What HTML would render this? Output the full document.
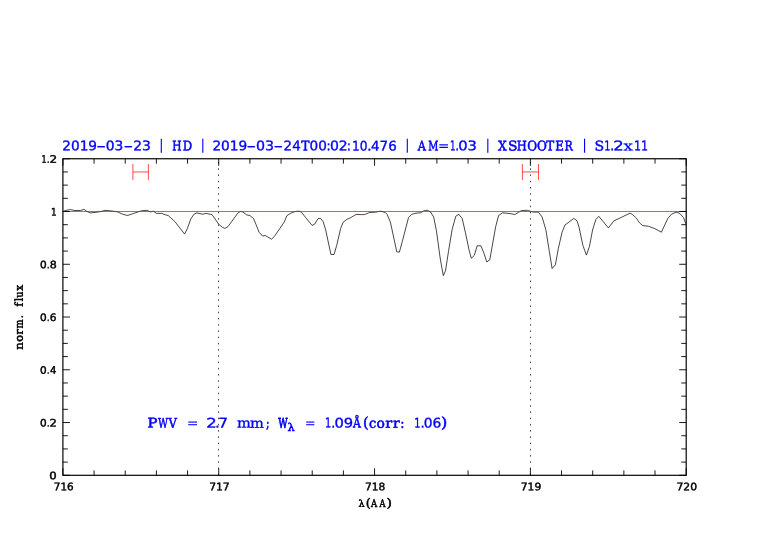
<!DOCTYPE html>
<html lang="en"><head><meta charset="utf-8"><title>plot</title>
<style>
html,body{margin:0;padding:0;background:#fff}svg{display:block}text{white-space:pre;font-variant-ligatures:none;text-rendering:geometricPrecision}
.c0{font-family:"DejaVu Sans","Liberation Sans",sans-serif;font-size:10.3px;font-weight:normal;fill:#000;stroke:#000;stroke-width:0.45px}
.c1{font-family:"DejaVu Serif","Liberation Serif",serif;font-size:9.44px;font-weight:normal;fill:#000;stroke:#000;stroke-width:0.5px}
.c2{font-family:"DejaVu Serif","Liberation Serif",serif;font-size:11.89px;font-weight:normal;fill:#000;stroke:#000;stroke-width:0.5px}
.c3{font-family:"DejaVu Serif","Liberation Serif",serif;font-size:10.5px;font-weight:normal;fill:#000;stroke:#000;stroke-width:0.5px}
.c4{font-family:"DejaVu Serif","Liberation Serif",serif;font-size:10.9px;font-weight:normal;fill:#000;stroke:#000;stroke-width:0.55px}
.c5{font-family:"DejaVu Sans","Liberation Sans",sans-serif;font-size:13.25px;font-weight:normal;fill:#00f;stroke:#00f;stroke-width:0.35px}
.c6{font-family:"DejaVu Sans","Liberation Sans",sans-serif;font-size:13.25px;font-weight:normal;fill:#00f;stroke:#00f;stroke-width:0.2px}
.c7{font-family:"DejaVu Sans","Liberation Sans",sans-serif;font-size:14.2px;font-weight:normal;fill:#00f;stroke:#00f;stroke-width:0.0px}
.c8{font-family:"DejaVu Serif","Liberation Serif",serif;font-size:13.5px;font-weight:normal;fill:#00f;stroke:#00f;stroke-width:0.55px}
.c9{font-family:"DejaVu Serif","Liberation Serif",serif;font-size:13.5px;font-weight:normal;fill:#00f;stroke:#00f;stroke-width:0.4px}
.c10{font-family:"DejaVu Serif","Liberation Serif",serif;font-size:13.5px;font-weight:normal;fill:#00f;stroke:#00f;stroke-width:0.25px}
.c11{font-family:"DejaVu Serif","Liberation Serif",serif;font-size:13.5px;font-weight:normal;fill:#00f;stroke:#00f;stroke-width:0.3px}
.c12{font-family:"DejaVu Serif","Liberation Serif",serif;font-size:13.5px;font-weight:normal;fill:#00f;stroke:#00f;stroke-width:0.8px}
.c13{font-family:"DejaVu Serif","Liberation Serif",serif;font-size:10.82px;font-weight:normal;fill:#00f;stroke:#00f;stroke-width:0.55px}
.c14{font-family:"DejaVu Serif","Liberation Serif",serif;font-size:14.61px;font-weight:normal;fill:#00f;stroke:#00f;stroke-width:0.55px}
</style></head>
<body>
<svg width="782" height="542" viewBox="0 0 782 542">
<rect width="782" height="542" fill="#fff"/>
<path d="M218.50 475.3V158.75" stroke="#222" stroke-width="0.85" stroke-dasharray="1.5 4.735" fill="none"/>
<path d="M530.50 475.3V158.75" stroke="#222" stroke-width="0.85" stroke-dasharray="1.5 4.735" fill="none"/>
<path d="M62.90 211.50 L66.00 210.40 L70.20 209.60 L75.00 210.50 L80.50 210.50 L84.00 209.30 L87.00 211.50 L90.70 212.90 L96.00 212.30 L101.00 211.50 L105.00 210.30 L112.00 211.00 L117.30 211.80 L122.40 214.10 L127.50 215.50 L133.70 213.40 L138.10 211.90 L142.20 210.65 L147.30 210.35 L150.30 211.90 L153.40 211.20 L156.50 213.40 L161.60 213.40 L165.70 214.95 L168.20 215.50 L174.90 221.60 L184.60 234.10 L187.20 228.80 L190.80 219.00 L193.80 214.40 L196.90 212.90 L202.50 214.20 L206.10 213.40 L210.50 214.30 L212.00 214.60 L215.10 219.00 L218.70 224.20 L222.30 227.20 L224.80 228.45 L227.90 226.70 L232.00 221.10 L237.60 213.40 L240.20 211.40 L242.70 211.90 L246.80 214.95 L249.90 215.50 L253.50 218.50 L256.50 225.70 L259.10 232.30 L262.70 236.10 L265.20 235.40 L271.40 239.20 L274.40 236.40 L279.60 228.80 L284.20 222.10 L286.90 215.70 L290.20 213.50 L294.70 211.70 L296.60 211.25 L299.60 211.30 L301.60 212.40 L305.70 217.60 L312.10 225.40 L314.70 224.10 L318.00 218.65 L320.50 218.30 L323.10 221.50 L325.70 229.90 L330.90 254.45 L334.10 254.45 L336.70 245.40 L340.60 228.60 L343.20 222.10 L347.00 219.30 L350.90 217.60 L356.10 214.40 L361.25 214.60 L364.50 214.60 L369.70 212.45 L375.50 212.20 L380.70 211.15 L385.20 212.45 L387.10 214.40 L390.40 222.10 L396.80 251.90 L399.40 252.10 L402.65 240.20 L408.50 217.60 L411.70 214.40 L414.90 213.35 L420.70 212.70 L424.60 210.50 L427.20 210.25 L430.40 211.80 L433.70 217.00 L436.40 230.50 L440.30 259.00 L443.30 275.60 L445.50 270.80 L448.45 251.70 L452.10 229.50 L455.80 216.20 L458.80 214.30 L462.20 218.45 L465.40 232.50 L469.10 250.20 L471.30 258.30 L474.30 255.35 L477.20 245.75 L480.90 245.75 L483.90 253.10 L486.80 262.00 L489.80 259.80 L492.00 247.20 L495.70 226.60 L498.60 215.50 L502.50 212.80 L510.30 213.60 L514.80 214.50 L521.40 210.60 L527.30 210.30 L533.20 212.10 L538.40 212.10 L542.10 217.00 L545.80 229.50 L549.40 251.70 L552.10 268.60 L555.35 264.90 L558.30 248.70 L562.00 232.50 L564.90 225.10 L573.80 218.45 L577.05 220.70 L579.05 227.30 L582.90 245.40 L586.40 255.10 L589.40 246.70 L592.60 229.90 L595.85 219.55 L598.80 216.30 L603.60 222.10 L608.40 227.95 L613.90 220.85 L621.70 217.20 L630.10 213.10 L632.80 214.80 L636.20 217.90 L639.50 222.80 L642.70 225.60 L648.40 226.20 L654.90 228.70 L661.40 232.20 L664.10 226.40 L667.80 218.50 L671.50 214.20 L676.10 212.20 L679.80 213.40 L683.50 217.60 L685.80 223.60" stroke="#000" stroke-width="0.72" fill="none" stroke-linejoin="round"/>
<path d="M62.90 211.51H686.20" stroke="#f00" stroke-width="0.7" fill="none"/>
<path d="M62.90 475.30v-7.0M62.90 158.75v7.0M94.06 475.30v-4.9M94.06 158.75v4.9M125.23 475.30v-4.9M125.23 158.75v4.9M156.40 475.30v-4.9M156.40 158.75v4.9M187.56 475.30v-4.9M187.56 158.75v4.9M218.73 475.30v-7.0M218.73 158.75v7.0M249.89 475.30v-4.9M249.89 158.75v4.9M281.06 475.30v-4.9M281.06 158.75v4.9M312.22 475.30v-4.9M312.22 158.75v4.9M343.38 475.30v-4.9M343.38 158.75v4.9M374.55 475.30v-7.0M374.55 158.75v7.0M405.72 475.30v-4.9M405.72 158.75v4.9M436.88 475.30v-4.9M436.88 158.75v4.9M468.05 475.30v-4.9M468.05 158.75v4.9M499.21 475.30v-4.9M499.21 158.75v4.9M530.38 475.30v-7.0M530.38 158.75v7.0M561.54 475.30v-4.9M561.54 158.75v4.9M592.71 475.30v-4.9M592.71 158.75v4.9M623.87 475.30v-4.9M623.87 158.75v4.9M655.03 475.30v-4.9M655.03 158.75v4.9M686.20 475.30v-7.0M686.20 158.75v7.0M62.90 475.30h7.0M686.20 475.30h-7.0M62.90 462.11h4.9M686.20 462.11h-4.9M62.90 448.92h4.9M686.20 448.92h-4.9M62.90 435.73h4.9M686.20 435.73h-4.9M62.90 422.54h7.0M686.20 422.54h-7.0M62.90 409.35h4.9M686.20 409.35h-4.9M62.90 396.16h4.9M686.20 396.16h-4.9M62.90 382.97h4.9M686.20 382.97h-4.9M62.90 369.78h7.0M686.20 369.78h-7.0M62.90 356.59h4.9M686.20 356.59h-4.9M62.90 343.40h4.9M686.20 343.40h-4.9M62.90 330.21h4.9M686.20 330.21h-4.9M62.90 317.02h7.0M686.20 317.02h-7.0M62.90 303.84h4.9M686.20 303.84h-4.9M62.90 290.65h4.9M686.20 290.65h-4.9M62.90 277.46h4.9M686.20 277.46h-4.9M62.90 264.27h7.0M686.20 264.27h-7.0M62.90 251.08h4.9M686.20 251.08h-4.9M62.90 237.89h4.9M686.20 237.89h-4.9M62.90 224.70h4.9M686.20 224.70h-4.9M62.90 211.51h7.0M686.20 211.51h-7.0M62.90 198.32h4.9M686.20 198.32h-4.9M62.90 185.13h4.9M686.20 185.13h-4.9M62.90 171.94h4.9M686.20 171.94h-4.9M62.90 158.75h7.0M686.20 158.75h-7.0" stroke="#000" stroke-width="0.9" fill="none"/>
<rect x="62.9" y="158.75" width="623.30" height="316.55" stroke="#000" stroke-width="1.18" fill="none"/>
<path d="M132.9 164V179.9M148.4 164V179.9M132.9 171.95H148.4" stroke="#f00" stroke-width="0.7" fill="none"/>
<path d="M522.4 164V179.9M538.5 164V179.9M522.4 171.95H538.5" stroke="#f00" stroke-width="0.7" fill="none"/>
<text transform="rotate(0.1 49.2 158.8)"><tspan class="c0" x="41.52" y="162.75" textLength="5.11" lengthAdjust="spacingAndGlyphs">1</tspan><tspan class="c0" x="47.14" y="162.75" textLength="2.44" lengthAdjust="spacingAndGlyphs">.</tspan><tspan class="c0" x="49.42" y="162.75" textLength="7.63" lengthAdjust="spacingAndGlyphs">2</tspan></text>
<text transform="rotate(0.1 53.9 211.5)"><tspan class="c0" x="51.05" y="215.51" textLength="5.60" lengthAdjust="spacingAndGlyphs">1</tspan></text>
<text transform="rotate(0.1 48.4 264.3)"><tspan class="c0" x="40.09" y="268.27" textLength="6.68" lengthAdjust="spacingAndGlyphs">0</tspan><tspan class="c0" x="47.14" y="268.27" textLength="2.44" lengthAdjust="spacingAndGlyphs">.</tspan><tspan class="c0" x="49.66" y="268.27" textLength="7.04" lengthAdjust="spacingAndGlyphs">8</tspan></text>
<text transform="rotate(0.1 48.4 317.0)"><tspan class="c0" x="40.09" y="321.02" textLength="6.68" lengthAdjust="spacingAndGlyphs">0</tspan><tspan class="c0" x="47.14" y="321.02" textLength="2.44" lengthAdjust="spacingAndGlyphs">.</tspan><tspan class="c0" x="49.69" y="321.02" textLength="6.73" lengthAdjust="spacingAndGlyphs">6</tspan></text>
<text transform="rotate(0.1 48.4 369.8)"><tspan class="c0" x="40.09" y="373.78" textLength="6.68" lengthAdjust="spacingAndGlyphs">0</tspan><tspan class="c0" x="47.14" y="373.78" textLength="2.44" lengthAdjust="spacingAndGlyphs">.</tspan><tspan class="c0" x="49.95" y="373.78" textLength="6.45" lengthAdjust="spacingAndGlyphs">4</tspan></text>
<text transform="rotate(0.1 48.4 422.5)"><tspan class="c0" x="40.09" y="426.54" textLength="6.68" lengthAdjust="spacingAndGlyphs">0</tspan><tspan class="c0" x="47.14" y="426.54" textLength="2.44" lengthAdjust="spacingAndGlyphs">.</tspan><tspan class="c0" x="49.64" y="426.54" textLength="7.37" lengthAdjust="spacingAndGlyphs">2</tspan></text>
<text transform="rotate(0.1 53.0 475.3)"><tspan class="c0" x="49.34" y="479.30" textLength="7.40" lengthAdjust="spacingAndGlyphs">0</tspan></text>
<text transform="rotate(0.1 63.8 486.2)"><tspan class="c0" x="53.80" y="490.20" textLength="19.81" lengthAdjust="spacingAndGlyphs">716</tspan></text>
<text transform="rotate(0.1 219.3 486.2)"><tspan class="c0" x="209.18" y="490.20" textLength="20.51" lengthAdjust="spacingAndGlyphs">717</tspan></text>
<text transform="rotate(0.1 375.1 486.2)"><tspan class="c0" x="364.99" y="490.20" textLength="20.23" lengthAdjust="spacingAndGlyphs">718</tspan></text>
<text transform="rotate(0.1 531.0 486.2)"><tspan class="c0" x="520.78" y="490.20" textLength="20.44" lengthAdjust="spacingAndGlyphs">719</tspan></text>
<text transform="rotate(0.1 686.8 486.2)"><tspan class="c0" x="676.48" y="490.20" textLength="20.55" lengthAdjust="spacingAndGlyphs">720</tspan></text>
<text transform="rotate(0.1 374.9 502.9)"><tspan class="c1" x="358.60" y="506.75" textLength="6.08" lengthAdjust="spacingAndGlyphs">λ</tspan><tspan class="c2" x="365.79" y="506.97" textLength="5.00" lengthAdjust="spacingAndGlyphs">(</tspan><tspan class="c3" x="371.10" y="506.90" textLength="6.17" lengthAdjust="spacingAndGlyphs">A</tspan><tspan class="c3" x="379.40" y="506.90" textLength="5.98" lengthAdjust="spacingAndGlyphs">A</tspan><tspan class="c2" x="386.41" y="506.97" textLength="5.44" lengthAdjust="spacingAndGlyphs">)</tspan></text>
<g transform="translate(22.7 349.8) rotate(-90)"><text transform="rotate(0.1 17.1 -4.0)"><tspan class="c4" x="0.10" y="0.00" textLength="7.52" lengthAdjust="spacingAndGlyphs">n</tspan><tspan class="c4" x="8.04" y="0.00" textLength="6.78" lengthAdjust="spacingAndGlyphs">o</tspan><tspan class="c4" x="15.20" y="0.00" textLength="5.12" lengthAdjust="spacingAndGlyphs">r</tspan><tspan class="c4" x="21.30" y="0.00" textLength="8.97" lengthAdjust="spacingAndGlyphs">m</tspan><tspan class="c4" x="31.53" y="0.00" textLength="3.12" lengthAdjust="spacingAndGlyphs">.</tspan></text>
<text transform="rotate(0.1 54.1 -4.0)"><tspan class="c4" x="43.20" y="0.00" textLength="3.79" lengthAdjust="spacingAndGlyphs">f</tspan><tspan class="c4" x="48.60" y="0.00" textLength="3.38" lengthAdjust="spacingAndGlyphs">l</tspan><tspan class="c4" x="52.00" y="0.00" textLength="6.21" lengthAdjust="spacingAndGlyphs">u</tspan><tspan class="c4" x="59.13" y="0.00" textLength="5.78" lengthAdjust="spacingAndGlyphs">x</tspan></text></g>
<text transform="rotate(0.1 106.5 146.3)"><tspan class="c5" x="62.33" y="150.30" textLength="34.73" lengthAdjust="spacingAndGlyphs">2019</tspan><tspan class="c6" x="96.27" y="150.30" textLength="9.82" lengthAdjust="spacingAndGlyphs">-</tspan><tspan class="c5" x="105.72" y="150.30" textLength="17.59" lengthAdjust="spacingAndGlyphs">03</tspan><tspan class="c6" x="123.43" y="150.30" textLength="9.75" lengthAdjust="spacingAndGlyphs">-</tspan><tspan class="c5" x="133.21" y="150.30" textLength="17.70" lengthAdjust="spacingAndGlyphs">23</tspan></text>
<text transform="rotate(0.1 161.3 145.6)"><tspan class="c7" x="159.02" y="149.63" textLength="4.59" lengthAdjust="spacingAndGlyphs">|</tspan></text>
<text transform="rotate(0.1 182.1 146.6)"><tspan class="c8" x="172.26" y="150.55" textLength="9.26" lengthAdjust="spacingAndGlyphs">H</tspan><tspan class="c8" x="182.66" y="150.55" textLength="9.44" lengthAdjust="spacingAndGlyphs">D</tspan></text>
<text transform="rotate(0.1 202.7 145.6)"><tspan class="c7" x="200.42" y="149.63" textLength="4.59" lengthAdjust="spacingAndGlyphs">|</tspan></text>
<text transform="rotate(0.1 304.7 146.3)"><tspan class="c5" x="212.43" y="150.30" textLength="34.73" lengthAdjust="spacingAndGlyphs">2019</tspan><tspan class="c6" x="246.49" y="150.30" textLength="9.69" lengthAdjust="spacingAndGlyphs">-</tspan><tspan class="c5" x="255.90" y="150.30" textLength="18.04" lengthAdjust="spacingAndGlyphs">03</tspan><tspan class="c6" x="273.59" y="150.30" textLength="9.69" lengthAdjust="spacingAndGlyphs">-</tspan><tspan class="c5" x="283.64" y="150.30" textLength="17.09" lengthAdjust="spacingAndGlyphs">24</tspan><tspan class="c8" x="301.33" y="150.55" textLength="8.26" lengthAdjust="spacingAndGlyphs">T</tspan><tspan class="c5" x="309.53" y="150.30" textLength="17.31" lengthAdjust="spacingAndGlyphs">00</tspan><tspan class="c5" x="326.56" y="150.30" textLength="4.09" lengthAdjust="spacingAndGlyphs">:</tspan><tspan class="c5" x="329.96" y="150.30" textLength="17.83" lengthAdjust="spacingAndGlyphs">02</tspan><tspan class="c5" x="346.82" y="150.30" textLength="4.21" lengthAdjust="spacingAndGlyphs">:</tspan><tspan class="c5" x="352.05" y="150.30" textLength="15.53" lengthAdjust="spacingAndGlyphs">10</tspan><tspan class="c5" x="367.21" y="150.30" textLength="4.34" lengthAdjust="spacingAndGlyphs">.</tspan><tspan class="c5" x="371.09" y="150.30" textLength="25.61" lengthAdjust="spacingAndGlyphs">476</tspan></text>
<text transform="rotate(0.1 407.3 145.6)"><tspan class="c7" x="405.02" y="149.63" textLength="4.59" lengthAdjust="spacingAndGlyphs">|</tspan></text>
<text transform="rotate(0.1 446.7 146.4)"><tspan class="c8" x="417.82" y="150.55" textLength="8.16" lengthAdjust="spacingAndGlyphs">A</tspan><tspan class="c8" x="428.22" y="150.55" textLength="10.12" lengthAdjust="spacingAndGlyphs">M</tspan><tspan class="c6" x="437.93" y="150.30" textLength="11.31" lengthAdjust="spacingAndGlyphs">=</tspan><tspan class="c5" x="450.08" y="150.30" textLength="5.54" lengthAdjust="spacingAndGlyphs">1</tspan><tspan class="c5" x="455.36" y="150.30" textLength="3.86" lengthAdjust="spacingAndGlyphs">.</tspan><tspan class="c5" x="458.27" y="150.30" textLength="18.70" lengthAdjust="spacingAndGlyphs">03</tspan></text>
<text transform="rotate(0.1 487.9 145.6)"><tspan class="c7" x="485.62" y="149.63" textLength="4.59" lengthAdjust="spacingAndGlyphs">|</tspan></text>
<text transform="rotate(0.1 535.5 146.6)"><tspan class="c8" x="498.03" y="150.55" textLength="8.76" lengthAdjust="spacingAndGlyphs">X</tspan><tspan class="c8" x="507.93" y="150.55" textLength="9.49" lengthAdjust="spacingAndGlyphs">S</tspan><tspan class="c8" x="516.77" y="150.55" textLength="10.03" lengthAdjust="spacingAndGlyphs">H</tspan><tspan class="c8" x="527.35" y="150.55" textLength="9.86" lengthAdjust="spacingAndGlyphs">O</tspan><tspan class="c8" x="537.05" y="150.55" textLength="9.86" lengthAdjust="spacingAndGlyphs">O</tspan><tspan class="c8" x="546.22" y="150.55" textLength="7.92" lengthAdjust="spacingAndGlyphs">T</tspan><tspan class="c8" x="555.36" y="150.55" textLength="8.58" lengthAdjust="spacingAndGlyphs">E</tspan><tspan class="c8" x="564.50" y="150.55" textLength="8.24" lengthAdjust="spacingAndGlyphs">R</tspan></text>
<text transform="rotate(0.1 584.5 145.6)"><tspan class="c7" x="582.22" y="149.63" textLength="4.59" lengthAdjust="spacingAndGlyphs">|</tspan></text>
<text transform="rotate(0.1 621.3 146.4)"><tspan class="c9" x="594.50" y="150.55" textLength="9.68" lengthAdjust="spacingAndGlyphs">S</tspan><tspan class="c5" x="604.18" y="150.30" textLength="6.21" lengthAdjust="spacingAndGlyphs">1</tspan><tspan class="c5" x="610.11" y="150.30" textLength="4.34" lengthAdjust="spacingAndGlyphs">.</tspan><tspan class="c5" x="613.37" y="150.30" textLength="10.51" lengthAdjust="spacingAndGlyphs">2</tspan><tspan class="c10" x="623.50" y="150.55" textLength="9.35" lengthAdjust="spacingAndGlyphs">x</tspan><tspan class="c5" x="633.96" y="150.30" textLength="14.08" lengthAdjust="spacingAndGlyphs">11</tspan></text>
<text transform="rotate(0.1 162.7 423.6)"><tspan class="c8" x="147.51" y="427.65" textLength="9.90" lengthAdjust="spacingAndGlyphs">P</tspan><tspan class="c8" x="157.98" y="427.65" textLength="9.96" lengthAdjust="spacingAndGlyphs">W</tspan><tspan class="c8" x="168.63" y="427.65" textLength="8.34" lengthAdjust="spacingAndGlyphs">V</tspan></text>
<text transform="rotate(0.1 192.7 423.4)"><tspan class="c6" x="187.02" y="427.45" textLength="11.37" lengthAdjust="spacingAndGlyphs">=</tspan></text>
<text transform="rotate(0.1 217.1 423.4)"><tspan class="c5" x="206.37" y="427.45" textLength="10.51" lengthAdjust="spacingAndGlyphs">2</tspan><tspan class="c5" x="215.21" y="427.45" textLength="4.34" lengthAdjust="spacingAndGlyphs">.</tspan><tspan class="c5" x="218.25" y="427.45" textLength="9.74" lengthAdjust="spacingAndGlyphs">7</tspan></text>
<text transform="rotate(0.1 252.8 423.6)"><tspan class="c11" x="236.93" y="427.65" textLength="13.81" lengthAdjust="spacingAndGlyphs">m</tspan><tspan class="c11" x="250.13" y="427.65" textLength="13.91" lengthAdjust="spacingAndGlyphs">m</tspan><tspan class="c12" x="266.20" y="427.65" textLength="3.00" lengthAdjust="spacingAndGlyphs">;</tspan></text>
<text transform="rotate(0.1 286.4 425.3)"><tspan class="c12" x="278.27" y="427.65" textLength="9.34" lengthAdjust="spacingAndGlyphs">W</tspan><tspan class="c13" x="287.64" y="430.93" textLength="7.18" lengthAdjust="spacingAndGlyphs">λ</tspan></text>
<text transform="rotate(0.1 310.3 423.4)"><tspan class="c6" x="305.12" y="427.45" textLength="10.46" lengthAdjust="spacingAndGlyphs">=</tspan></text>
<text transform="rotate(0.1 364.8 423.6)"><tspan class="c5" x="325.13" y="427.45" textLength="6.21" lengthAdjust="spacingAndGlyphs">1</tspan><tspan class="c5" x="331.19" y="427.45" textLength="4.10" lengthAdjust="spacingAndGlyphs">.</tspan><tspan class="c5" x="334.47" y="427.45" textLength="18.73" lengthAdjust="spacingAndGlyphs">09</tspan><tspan class="c8" x="352.90" y="427.65" textLength="7.89" lengthAdjust="spacingAndGlyphs">Å</tspan><tspan class="c14" x="363.06" y="427.43" textLength="5.64" lengthAdjust="spacingAndGlyphs">(</tspan><tspan class="c8" x="369.06" y="427.65" textLength="7.24" lengthAdjust="spacingAndGlyphs">c</tspan><tspan class="c8" x="376.64" y="427.65" textLength="8.36" lengthAdjust="spacingAndGlyphs">o</tspan><tspan class="c8" x="385.33" y="427.65" textLength="6.97" lengthAdjust="spacingAndGlyphs">r</tspan><tspan class="c8" x="392.94" y="427.65" textLength="6.77" lengthAdjust="spacingAndGlyphs">r</tspan><tspan class="c8" x="400.28" y="427.65" textLength="4.20" lengthAdjust="spacingAndGlyphs">:</tspan></text>
<text transform="rotate(0.1 430.8 423.4)"><tspan class="c5" x="414.38" y="427.45" textLength="6.21" lengthAdjust="spacingAndGlyphs">1</tspan><tspan class="c5" x="420.40" y="427.45" textLength="4.22" lengthAdjust="spacingAndGlyphs">.</tspan><tspan class="c5" x="423.72" y="427.45" textLength="17.53" lengthAdjust="spacingAndGlyphs">06</tspan><tspan class="c14" x="440.98" y="427.43" textLength="6.27" lengthAdjust="spacingAndGlyphs">)</tspan></text>
</svg>
</body></html>
